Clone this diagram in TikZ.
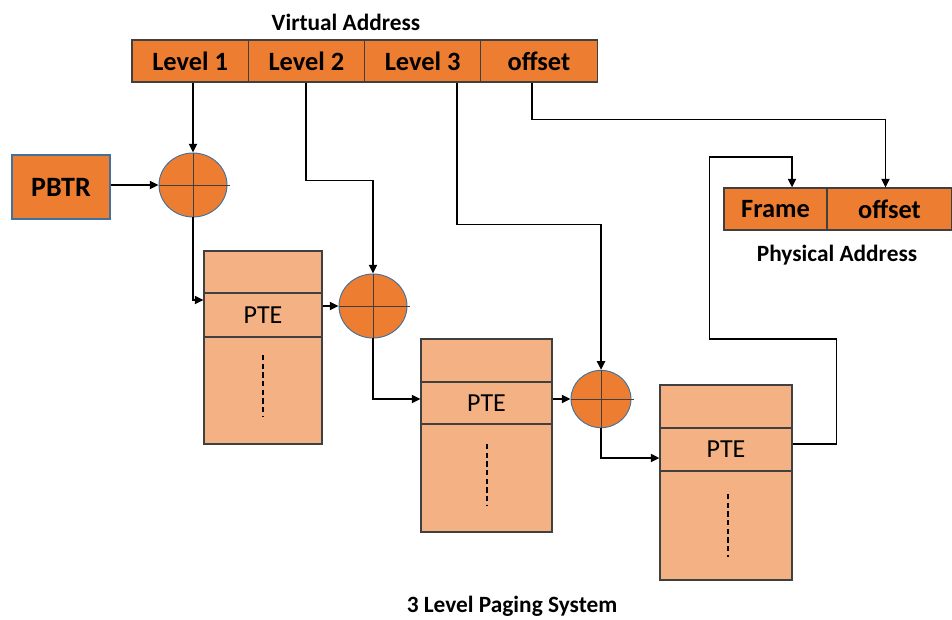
\documentclass[tikz,border=0pt]{standalone}
\usepackage{fontspec}
\setmainfont{Carlito}
\usetikzlibrary{arrows.meta,shapes.geometric}
\definecolor{org}{HTML}{ED7D31}
\definecolor{lorg}{HTML}{F4B183}
\definecolor{cblue}{HTML}{41719C}
\definecolor{dgray}{HTML}{404040}
\tikzset{
  cell/.style={draw=dgray,line width=0.8pt,fill=org,inner sep=0pt,minimum height=31.5pt,font=\fontsize{19.8}{21}\selectfont\bfseries},
  tcell/.style={draw=dgray,line width=0.8pt,fill=lorg,inner sep=0pt,font=\fontsize{19.5}{21}\selectfont},
  adder/.style={ellipse,draw=cblue,line width=0.7pt,fill=org,inner sep=0pt},
  conn/.style={line width=1.4pt,black},
  arr/.style={conn,-{Triangle[length=6.5pt,width=6pt]}},
  lbl/.style={font=\fontsize{17.5}{19}\selectfont\bfseries},
  dots/.style={line width=0.8pt,dash pattern=on 4pt off 2.5pt}
}
\begin{document}
\begin{tikzpicture}[x=0.75pt,y=-0.75pt]
\useasboundingbox (0,0) rectangle (952,619);
% virtual address
\node[lbl] (vatitle) at (346,22) {Virtual Address};
\node[cell,minimum width=87.2pt] (va1) at (190.1,61) {Level 1};
\node[cell,minimum width=87.2pt] (va2) at (306.4,61) {Level 2};
\node[cell,minimum width=87.2pt] (va3) at (422.6,61) {Level 3};
\node[cell,minimum width=87.2pt] (va4) at (538.9,61) {offset};
% PBTR
\node[cell,draw=cblue,minimum width=73.5pt,minimum height=48pt,font=\fontsize{21}{23}\selectfont\bfseries] (pbtr) at (61,187) {PBTR};
% adders
\node[adder,minimum width=51pt,minimum height=48pt] (c1) at (193,185) {};
\node[adder,minimum width=51pt,minimum height=48pt] (c2) at (373,306) {};
\node[adder,minimum width=45pt,minimum height=43pt] (c3) at (601,399) {};
\foreach \c in {c1,c2,c3}{
  \draw[line width=0.6pt,black!75] (\c.west) -- ([xshift=2pt]\c.east);
  \draw[line width=0.6pt,black!75] (\c.north) -- (\c.south);
}
% table 1
\node[tcell,minimum width=88.5pt,minimum height=31.5pt] (t1a) at (263,272) {};
\node[tcell,minimum width=88.5pt,minimum height=33pt] (t1p) at (263,315) {PTE};
\node[tcell,minimum width=88.5pt,minimum height=80.25pt] (t1b) at (263,390.5) {};
\draw[dots] (263,355) -- (263,417);
% table 2
\node[tcell,minimum width=98.25pt,minimum height=32.25pt] (t2a) at (486.5,360.5) {};
\node[tcell,minimum width=98.25pt,minimum height=31.5pt] (t2p) at (486.5,403) {PTE};
\node[tcell,minimum width=98.25pt,minimum height=81pt] (t2b) at (486.5,478) {};
\draw[dots] (487,444) -- (487,506);
% table 3
\node[tcell,minimum width=99pt,minimum height=32.25pt] (t3a) at (726,406.5) {};
\node[tcell,minimum width=99pt,minimum height=32.25pt] (t3p) at (726,449.5) {PTE};
\node[tcell,minimum width=99pt,minimum height=81.75pt] (t3b) at (726,525.5) {};
\draw[dots] (728,494) -- (728,557);
% physical address
\node[cell,minimum width=77.25pt] (pa1) at (775.5,209) {Frame};
\node[cell,minimum width=93.75pt] (pa2) at (889.5,209) {offset};
\node[lbl] (patitle) at (837,255) {Physical Address};
% caption
\node[lbl] (caption) at (512,606) {3 Level Paging System};
% connectors
\draw[arr] (va1.south -| c1.north) -- (c1.north);
\draw[arr] (pbtr.east |- c1.west) -- (c1.west);
\draw[arr] (c1.south) |- ([yshift=11.25pt]t1p.west);
\draw[arr] (va2.south) -- ++(0,98) -| (c2.north);
\draw[arr] (t1p.east |- c2.west) -- (c2.west);
\draw[arr] (c2.south) |- ([yshift=3pt]t2p.west);
\draw[arr] ([xshift=25.8pt]va3.south) -- ++(0,142) -| (c3.north);
\draw[arr] (t2p.east |- c3.west) -- (c3.west);
\draw[arr] (c3.south) |- ([yshift=-6.4pt]t3p.west);
\draw[arr] ([xshift=-5.2pt]va4.south) -- ++(0,37) -| ([xshift=-3pt]pa2.north);
\draw[arr] ([yshift=4pt]t3p.east) -- ++(44,0) -- ++(0,-105) -- ++(-127,0) -- ++(0,-182) -| ([xshift=12.4pt]pa1.north);
\end{tikzpicture}
\end{document}
